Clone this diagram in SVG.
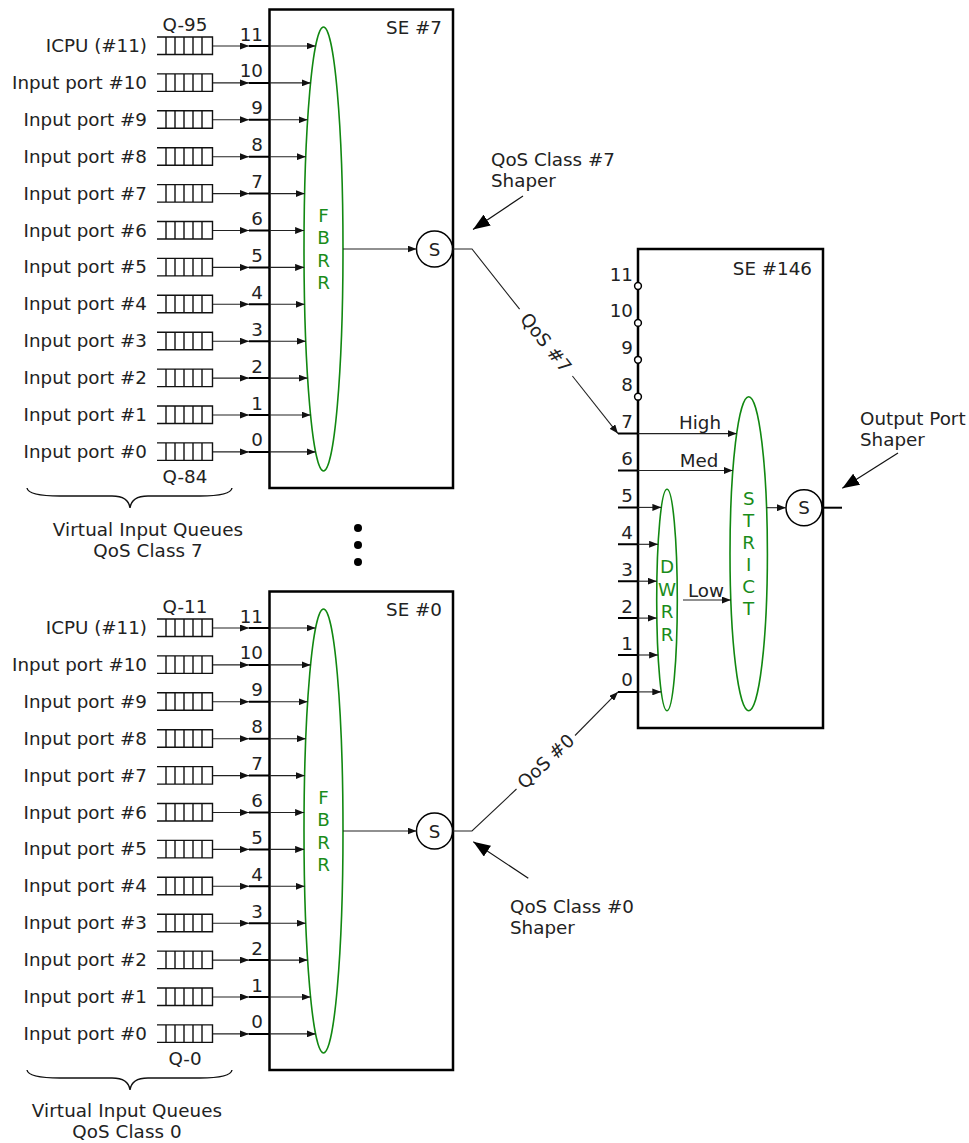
<svg xmlns="http://www.w3.org/2000/svg" width="969" height="1143" viewBox="0 0 969 1143">
<style>
.t{font-family:"DejaVu Sans",Verdana,sans-serif;font-size:18.3px;fill:#222}
.r{text-anchor:end}
.m{text-anchor:middle}
.g{font-family:"DejaVu Sans",Verdana,sans-serif;font-size:18.3px;fill:#1a8c1a;text-anchor:middle}
.cap{letter-spacing:0.1px}
.box{fill:none;stroke:#000;stroke-width:2.5}
.ell{fill:none;stroke:#118811;stroke-width:1.6}
.circ{fill:#fff;stroke:#000;stroke-width:1.5}
.pc{fill:#fff;stroke:#000;stroke-width:1.5}
.ln{fill:none;stroke:#222;stroke-width:1.1}
.ar{fill:none;stroke:#222;stroke-width:1.1;marker-end:url(#a)}
.big{fill:none;stroke:#111;stroke-width:1.2;marker-end:url(#A)}
.stub{fill:none;stroke:#000;stroke-width:2}
.brace{fill:none;stroke:#111;stroke-width:1.4}
</style>
<defs>
<marker id="a" markerWidth="9" markerHeight="7" refX="9" refY="3.5" orient="auto" markerUnits="userSpaceOnUse"><path d="M0,0L9,3.5L0,7z" fill="#111"/></marker>
<marker id="A" markerWidth="17" markerHeight="13" refX="17" refY="6.5" orient="auto" markerUnits="userSpaceOnUse"><path d="M0,0L17,6.5L0,13z" fill="#000"/></marker>
<path id="q" d="M157,-9H212.5V8.5H157M166,-9V8.5M175,-9V8.5M184,-9V8.5M193,-9V8.5M202,-9V8.5" fill="none" stroke="#111" stroke-width="1.4"/>
</defs>
<rect width="969" height="1143" fill="#fff"/>

<!-- ===== Top group: QoS class 7 ===== -->
<g id="queues7">
<use href="#q" y="46"/><use href="#q" y="82.9"/><use href="#q" y="119.8"/><use href="#q" y="156.7"/>
<use href="#q" y="193.6"/><use href="#q" y="230.5"/><use href="#q" y="267.4"/><use href="#q" y="304.3"/>
<use href="#q" y="341.2"/><use href="#q" y="378.1"/><use href="#q" y="415"/><use href="#q" y="451.9"/>
<text class="t r" x="147" y="52">ICPU (#11)</text>
<text class="t r" x="147" y="88.9">Input port #10</text>
<text class="t r" x="147" y="125.8">Input port #9</text>
<text class="t r" x="147" y="162.7">Input port #8</text>
<text class="t r" x="147" y="199.6">Input port #7</text>
<text class="t r" x="147" y="236.5">Input port #6</text>
<text class="t r" x="147" y="273.4">Input port #5</text>
<text class="t r" x="147" y="310.3">Input port #4</text>
<text class="t r" x="147" y="347.2">Input port #3</text>
<text class="t r" x="147" y="384.1">Input port #2</text>
<text class="t r" x="147" y="421">Input port #1</text>
<text class="t r" x="147" y="457.9">Input port #0</text>
<text class="t m" x="185" y="31">Q-95</text>
<text class="t m" x="185" y="483">Q-84</text>
<path class="brace" d="M27,488C28,494 40,496 60,496L112,496C124,496 129,500 130,508C131,500 136,496 148,496L200,496C220,496 231,494 232,488"/>
<text class="t m cap" x="148" y="536">Virtual Input Queues</text>
<text class="t m cap" x="148" y="557">QoS Class 7</text>
</g>

<g id="se7">
<rect class="box" x="269.5" y="9.5" width="183.5" height="478.5"/>
<text class="t r" x="442" y="34">SE #7</text>
<text class="t r" x="263" y="40.5">11</text>
<text class="t r" x="263" y="77.4">10</text>
<text class="t r" x="263" y="114.3">9</text>
<text class="t r" x="263" y="151.2">8</text>
<text class="t r" x="263" y="188.1">7</text>
<text class="t r" x="263" y="225">6</text>
<text class="t r" x="263" y="261.9">5</text>
<text class="t r" x="263" y="298.8">4</text>
<text class="t r" x="263" y="335.7">3</text>
<text class="t r" x="263" y="372.6">2</text>
<text class="t r" x="263" y="409.5">1</text>
<text class="t r" x="263" y="446.4">0</text>
<g id="fbrr7">
<ellipse class="ell" cx="323.5" cy="249" rx="19.5" ry="222"/>
<text class="g" x="323.5" y="221.5">F</text>
<text class="g" x="323.5" y="244">B</text>
<text class="g" x="323.5" y="266.5">R</text>
<text class="g" x="323.5" y="289">R</text>
</g>
<g id="shaper7">
<circle class="circ" cx="434.5" cy="249" r="18"/>
<text class="t m" x="434.5" y="255.5">S</text>
</g>
</g>

<!-- ===== Bottom group: QoS class 0 ===== -->
<g id="queues0">
<use href="#q" y="628"/><use href="#q" y="664.9"/><use href="#q" y="701.8"/><use href="#q" y="738.7"/>
<use href="#q" y="775.6"/><use href="#q" y="812.5"/><use href="#q" y="849.4"/><use href="#q" y="886.3"/>
<use href="#q" y="923.2"/><use href="#q" y="960.1"/><use href="#q" y="997"/><use href="#q" y="1033.9"/>
<text class="t r" x="147" y="634">ICPU (#11)</text>
<text class="t r" x="147" y="670.9">Input port #10</text>
<text class="t r" x="147" y="707.8">Input port #9</text>
<text class="t r" x="147" y="744.7">Input port #8</text>
<text class="t r" x="147" y="781.6">Input port #7</text>
<text class="t r" x="147" y="818.5">Input port #6</text>
<text class="t r" x="147" y="855.4">Input port #5</text>
<text class="t r" x="147" y="892.3">Input port #4</text>
<text class="t r" x="147" y="929.2">Input port #3</text>
<text class="t r" x="147" y="966.1">Input port #2</text>
<text class="t r" x="147" y="1003">Input port #1</text>
<text class="t r" x="147" y="1039.9">Input port #0</text>
<text class="t m" x="185" y="613">Q-11</text>
<text class="t m" x="185" y="1065">Q-0</text>
<path class="brace" d="M27,1070C28,1076 40,1078 60,1078L112,1078C124,1078 129,1082 130,1090C131,1082 136,1078 148,1078L200,1078C220,1078 231,1076 232,1070"/>
<text class="t m cap" x="127" y="1117">Virtual Input Queues</text>
<text class="t m cap" x="127" y="1138">QoS Class 0</text>
</g>

<g id="se0">
<rect class="box" x="269.5" y="591.5" width="183.5" height="478.5"/>
<text class="t r" x="442" y="616">SE #0</text>
<text class="t r" x="263" y="622.5">11</text>
<text class="t r" x="263" y="659.4">10</text>
<text class="t r" x="263" y="696.3">9</text>
<text class="t r" x="263" y="733.2">8</text>
<text class="t r" x="263" y="770.1">7</text>
<text class="t r" x="263" y="807">6</text>
<text class="t r" x="263" y="843.9">5</text>
<text class="t r" x="263" y="880.8">4</text>
<text class="t r" x="263" y="917.7">3</text>
<text class="t r" x="263" y="954.6">2</text>
<text class="t r" x="263" y="991.5">1</text>
<text class="t r" x="263" y="1028.4">0</text>
<g id="fbrr0">
<ellipse class="ell" cx="323.5" cy="831" rx="19.5" ry="222"/>
<text class="g" x="323.5" y="803.5">F</text>
<text class="g" x="323.5" y="826">B</text>
<text class="g" x="323.5" y="848.5">R</text>
<text class="g" x="323.5" y="871">R</text>
</g>
<g id="shaper0">
<circle class="circ" cx="434.5" cy="831" r="18"/>
<text class="t m" x="434.5" y="837.5">S</text>
</g>
</g>

<g id="dots">
<circle cx="358" cy="528" r="4" fill="#000"/>
<circle cx="358" cy="545" r="4" fill="#000"/>
<circle cx="358" cy="562" r="4" fill="#000"/>
</g>

<!-- ===== SE #146 ===== -->
<g id="se146">
<rect class="box" x="638" y="249" width="185" height="479"/>
<text class="t r" x="812" y="275">SE #146</text>
<text class="t r" x="633" y="280.5">11</text>
<text class="t r" x="633" y="317.4">10</text>
<text class="t r" x="633" y="354.3">9</text>
<text class="t r" x="633" y="391.2">8</text>
<text class="t r" x="633" y="428.1">7</text>
<text class="t r" x="633" y="465">6</text>
<text class="t r" x="633" y="501.9">5</text>
<text class="t r" x="633" y="538.8">4</text>
<text class="t r" x="633" y="575.7">3</text>
<text class="t r" x="633" y="612.6">2</text>
<text class="t r" x="633" y="649.5">1</text>
<text class="t r" x="633" y="686.4">0</text>
<circle class="pc" cx="638" cy="286" r="3.4"/>
<circle class="pc" cx="638" cy="322.9" r="3.4"/>
<circle class="pc" cx="638" cy="359.8" r="3.4"/>
<circle class="pc" cx="638" cy="396.7" r="3.4"/>
<g id="dwrr">
<ellipse class="ell" cx="667" cy="600" rx="10.3" ry="110.7"/>
<text class="g" x="667" y="573">D</text>
<text class="g" x="667" y="595.5">W</text>
<text class="g" x="667" y="618">R</text>
<text class="g" x="667" y="640.5">R</text>
</g>
<g id="strict">
<ellipse class="ell" cx="748.7" cy="553.7" rx="18.7" ry="157"/>
<text class="g" x="748.7" y="504.5">S</text>
<text class="g" x="748.7" y="526.5">T</text>
<text class="g" x="748.7" y="548.5">R</text>
<text class="g" x="748.7" y="570.5">I</text>
<text class="g" x="748.7" y="592.5">C</text>
<text class="g" x="748.7" y="614.5">T</text>
</g>
<g id="shaper146">
<circle class="circ" cx="804" cy="507.7" r="18"/>
<text class="t m" x="804" y="514.2">S</text>
</g>
<text class="t m" x="700" y="429">High</text>
<text class="t m" x="699" y="467">Med</text>
<text class="t" x="688" y="597">Low</text>
</g>

<g id="notes">
<text class="t" x="491" y="166">QoS Class #7</text>
<text class="t" x="491" y="187">Shaper</text>
<text class="t" x="860" y="425">Output Port</text>
<text class="t" x="860" y="446">Shaper</text>
<text class="t" x="510" y="913">QoS Class #0</text>
<text class="t" x="510" y="934">Shaper</text>
</g>

<!-- ===== Connectors ===== -->
<g id="connectors">
<path class="ar" d="M213,46H249"/><path class="ar" d="M213,82.9H249"/><path class="ar" d="M213,119.8H249"/><path class="ar" d="M213,156.7H249"/>
<path class="ar" d="M213,193.6H249"/><path class="ar" d="M213,230.5H249"/><path class="ar" d="M213,267.4H249"/><path class="ar" d="M213,304.3H249"/>
<path class="ar" d="M213,341.2H249"/><path class="ar" d="M213,378.1H249"/><path class="ar" d="M213,415H249"/><path class="ar" d="M213,451.9H249"/>
<path class="stub" d="M249,46H269.5M249,82.9H269.5M249,119.8H269.5M249,156.7H269.5M249,193.6H269.5M249,230.5H269.5M249,267.4H269.5M249,304.3H269.5M249,341.2H269.5M249,378.1H269.5M249,415H269.5M249,451.9H269.5"/>
<path class="ar" d="M269.5,46H315.6"/><path class="ar" d="M269.5,82.9H310.6"/><path class="ar" d="M269.5,119.8H307.6"/><path class="ar" d="M269.5,156.7H305.8"/>
<path class="ar" d="M269.5,193.6H304.6"/><path class="ar" d="M269.5,230.5H304.1"/><path class="ar" d="M269.5,267.4H304.1"/><path class="ar" d="M269.5,304.3H304.6"/>
<path class="ar" d="M269.5,341.2H305.8"/><path class="ar" d="M269.5,378.1H307.6"/><path class="ar" d="M269.5,415H310.6"/><path class="ar" d="M269.5,451.9H315.6"/>
<path class="ar" d="M343,249H416.5"/>
<path class="ar" d="M213,628H249"/><path class="ar" d="M213,664.9H249"/><path class="ar" d="M213,701.8H249"/><path class="ar" d="M213,738.7H249"/>
<path class="ar" d="M213,775.6H249"/><path class="ar" d="M213,812.5H249"/><path class="ar" d="M213,849.4H249"/><path class="ar" d="M213,886.3H249"/>
<path class="ar" d="M213,923.2H249"/><path class="ar" d="M213,960.1H249"/><path class="ar" d="M213,997H249"/><path class="ar" d="M213,1033.9H249"/>
<path class="stub" d="M249,628H269.5M249,664.9H269.5M249,701.8H269.5M249,738.7H269.5M249,775.6H269.5M249,812.5H269.5M249,849.4H269.5M249,886.3H269.5M249,923.2H269.5M249,960.1H269.5M249,997H269.5M249,1033.9H269.5"/>
<path class="ar" d="M269.5,628H315.6"/><path class="ar" d="M269.5,664.9H310.6"/><path class="ar" d="M269.5,701.8H307.6"/><path class="ar" d="M269.5,738.7H305.8"/>
<path class="ar" d="M269.5,775.6H304.6"/><path class="ar" d="M269.5,812.5H304.1"/><path class="ar" d="M269.5,849.4H304.1"/><path class="ar" d="M269.5,886.3H304.6"/>
<path class="ar" d="M269.5,923.2H305.8"/><path class="ar" d="M269.5,960.1H307.6"/><path class="ar" d="M269.5,997H310.6"/><path class="ar" d="M269.5,1033.9H315.6"/>
<path class="ar" d="M343,831H416.5"/>
<path class="ln" d="M453,249H472L519.6,309.2"/>
<path class="ar" d="M572.4,376L618,433.6"/>
<text class="t m" transform="translate(546,342.6) rotate(51.65)" y="6.5">QoS #7</text>
<path class="ln" d="M453,831H472L516.5,789"/>
<path class="ar" d="M575,735.5L618,691.9"/>
<text class="t m" transform="translate(545.8,761.2) rotate(-43.4)" y="6.5">QoS #0</text>
<path class="stub" d="M618,433.6H638M618,470.5H638M618,507.4H638M618,544.3H638M618,581.2H638M618,618.1H638M618,655H638M618,691.9H638"/>
<path class="ar" d="M638,433.6H736.7"/>
<path class="ar" d="M638,470.5H732.8"/>
<path class="ar" d="M638,507.4H661.4"/>
<path class="ar" d="M638,544.3H658.1"/>
<path class="ar" d="M638,581.2H656.8"/>
<path class="ar" d="M638,618.1H656.8"/>
<path class="ar" d="M638,655H658.1"/>
<path class="ar" d="M638,691.9H661.3"/>
<path class="ar" d="M683,600H730.8"/>
<path class="ar" d="M766.6,507.7H786"/>
<path class="stub" d="M823,507.7H842"/>
<path class="big" d="M523,196L473,229.5"/>
<path class="big" d="M898,453L842.3,488.3"/>
<path class="big" d="M528.3,878.3L473.3,841.7"/>
</g>
</svg>
